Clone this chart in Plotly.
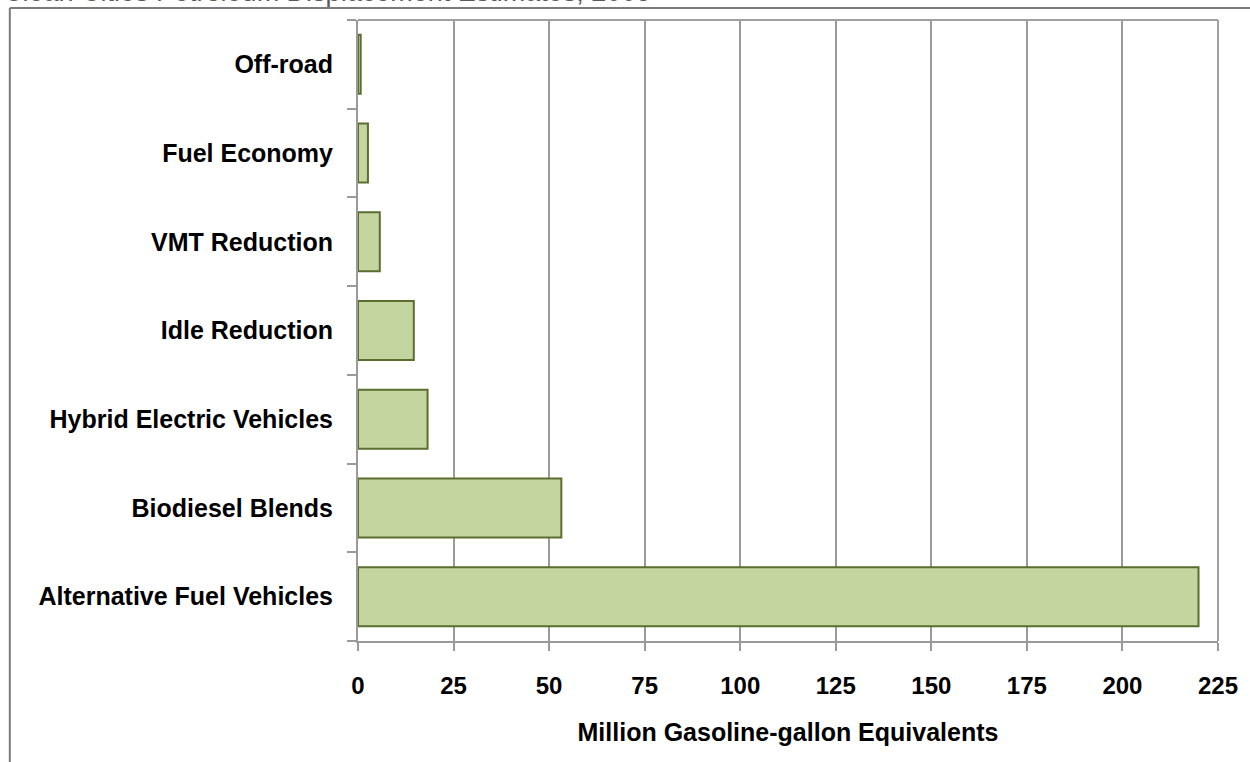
import plotly.graph_objects as go

# Program categories, listed bottom to top
categories = [
    "Alternative Fuel Vehicles",
    "Biodiesel Blends",
    "Hybrid Electric Vehicles",
    "Idle Reduction",
    "VMT Reduction",
    "Fuel Economy",
    "Off-road",
]
# Million gasoline-gallon equivalents displaced
displacement = [219.9, 53.2, 18.2, 14.6, 5.7, 2.6, 0.7]

x_ticks = [0, 25, 50, 75, 100, 125, 150, 175, 200, 225]

title_text = "Clean Cities Petroleum Displacement Estimates, 2009"
x_title = "Million Gasoline-gallon Equivalents"

FONT = "Arial, Liberation Sans, sans-serif"
GRID = "#9a9a9a"

fig = go.Figure(
    go.Bar(
        x=displacement,
        y=categories,
        orientation="h",
        marker=dict(color="#c4d59f", line=dict(color="#5a6e30", width=2)),
        width=0.665,
        hoverinfo="x+y",
    )
)

W, H = 1250, 762
L, R, T, B = 358, 30, 20, 121
pw, ph = W - L - R, H - T - B

fig.update_layout(
    width=W,
    height=H,
    margin=dict(l=L, r=R, t=T, b=B, pad=0),
    paper_bgcolor="white",
    plot_bgcolor="white",
    showlegend=False,
    font=dict(family=FONT, color="black"),
)

fig.update_xaxes(
    range=[0, 225],
    tickvals=x_ticks,
    ticktext=[str(v) for v in x_ticks],
    showgrid=True,
    gridcolor=GRID,
    gridwidth=2,
    zeroline=False,
    showline=True,
    linecolor=GRID,
    linewidth=2,
    ticks="outside",
    ticklen=8,
    tickwidth=2,
    tickcolor=GRID,
    tickfont=dict(family=FONT, size=24, color="black", weight="bold"),
    ticklabelstandoff=14,
    title=dict(
        text=x_title,
        font=dict(family=FONT, size=25, color="black", weight="bold"),
        standoff=26,
    ),
    fixedrange=True,
)

fig.update_yaxes(
    type="category",
    categoryorder="array",
    categoryarray=categories,
    range=[-0.5, len(categories) - 0.5],
    showgrid=False,
    zeroline=False,
    showline=True,
    linecolor=GRID,
    linewidth=2,
    ticks="outside",
    tickson="boundaries",
    ticklen=9,
    tickwidth=2,
    tickcolor=GRID,
    tickfont=dict(family=FONT, size=25, color="black", weight="bold"),
    ticklabelstandoff=18,
    fixedrange=True,
)

# Plot-area border on the top and right edges
fig.add_shape(type="line", xref="paper", yref="paper", x0=0, x1=1, y0=1, y1=1,
              line=dict(color="#a0a0a0", width=2))
fig.add_shape(type="line", xref="paper", yref="paper", x0=1, x1=1, y0=0, y1=1,
              line=dict(color="#a0a0a0", width=2))

# Outer chart frame (left and top edges)
fx = (9 - L) / pw
fy = 1 + (T - 8) / ph
fig.add_shape(type="line", xref="paper", yref="paper", x0=fx, x1=fx, y0=-1, y1=fy,
              line=dict(color="#7a7a7a", width=2))
fig.add_shape(type="line", xref="paper", yref="paper", x0=fx, x1=2, y0=fy, y1=fy,
              line=dict(color="#7a7a7a", width=2))

# Chart title above the frame
fig.add_annotation(
    text=title_text,
    xref="paper", yref="paper",
    x=(0 - L) / pw, y=1 + (T - 9) / ph,
    xanchor="left", yanchor="bottom",
    showarrow=False,
    font=dict(family=FONT, size=27, color="#595959"),
)

fig.write_html("out.html")
